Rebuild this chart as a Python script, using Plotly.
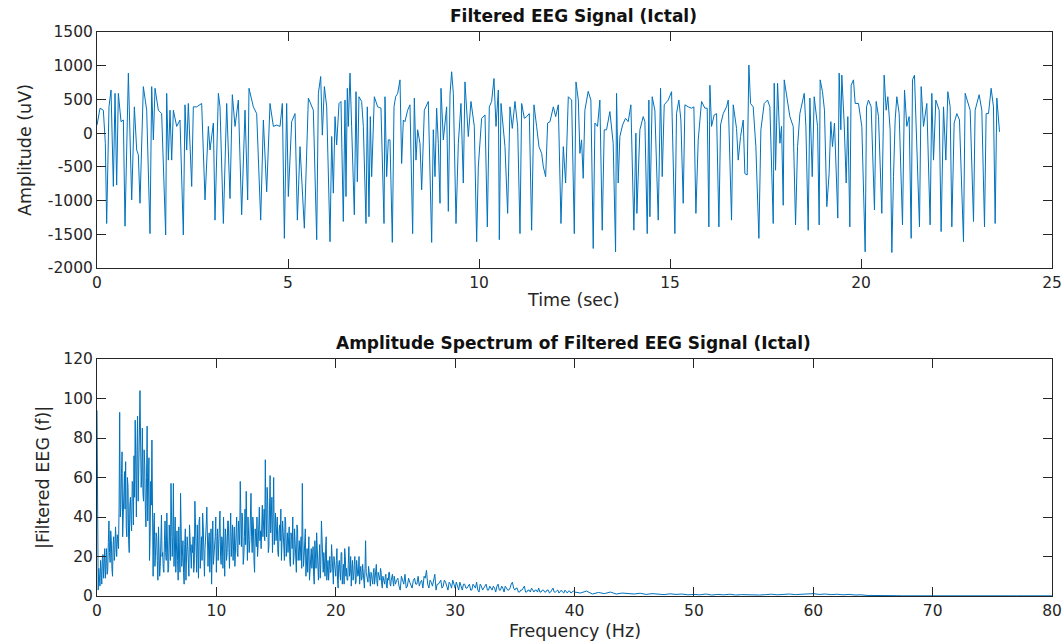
import numpy as np
import plotly.graph_objects as go

# ---- Ictal EEG trace (seconds, microvolts) ----
t_sec = [
    0.000, 0.079, 0.166, 0.218, 0.253, 0.314, 0.367, 0.428, 0.472, 0.515, 0.559, 0.629, 0.690, 0.733,
    0.821, 0.908, 0.978, 1.039, 1.082, 1.126, 1.213, 1.301, 1.388, 1.432, 1.475, 1.519, 1.606, 1.693,
    1.798, 1.824, 1.868, 1.911, 1.955, 1.999, 2.086, 2.173, 2.260, 2.304, 2.348, 2.391, 2.479, 2.522,
    2.609, 2.740, 2.828, 2.915, 2.958, 3.046, 3.089, 3.177, 3.220, 3.308, 3.395, 3.482, 3.543, 3.613,
    3.700, 3.787, 3.875, 3.944, 3.979, 4.093, 4.180, 4.285, 4.355, 4.442, 4.529, 4.617, 4.704, 4.791,
    4.852, 4.905, 4.965, 5.009, 5.096, 5.184, 5.245, 5.315, 5.428, 5.533, 5.663, 5.751, 5.795, 5.856,
    5.899, 5.952, 6.013, 6.100, 6.144, 6.187, 6.231, 6.274,
    6.335, 6.387, 6.448, 6.492, 6.518, 6.553, 6.579, 6.623, 6.666, 6.736, 6.780, 6.815, 6.858, 6.928,
    6.972, 7.042, 7.076, 7.120, 7.155, 7.190, 7.260, 7.347, 7.434, 7.513, 7.539, 7.583, 7.626, 7.670,
    7.731, 7.775, 7.818, 7.871, 7.932, 7.975, 8.019, 8.062, 8.132, 8.193, 8.263, 8.307, 8.350, 8.394,
    8.455, 8.499, 8.569, 8.673, 8.761, 8.804, 8.848, 8.891, 8.935, 8.979, 9.005, 9.066, 9.153, 9.197,
    9.241, 9.284, 9.328, 9.398, 9.459, 9.528, 9.589, 9.633, 9.720, 9.790, 9.877, 9.939, 9.982, 10.069,
    10.157, 10.218, 10.270, 10.331, 10.392, 10.445, 10.506, 10.532, 10.576, 10.637, 10.680, 10.750,
    10.811, 10.872, 10.942, 11.012, 11.073, 11.117, 11.187, 11.248, 11.317, 11.378, 11.439, 11.509,
    11.570, 11.640, 11.684, 11.745, 11.797, 11.858, 11.946, 12.007, 12.076, 12.146, 12.207, 12.268,
    12.338, 12.425, 12.495, 12.539, 12.600,
    12.641, 12.685, 12.728, 12.772, 12.859, 12.929, 12.990, 13.034, 13.103, 13.164, 13.226, 13.278,
    13.339, 13.426, 13.513, 13.575, 13.601, 13.644, 13.688, 13.758, 13.836, 13.906, 13.976, 14.054,
    14.107, 14.133, 14.212, 14.299, 14.343, 14.404, 14.447, 14.473, 14.534, 14.604, 14.692, 14.753,
    14.796, 14.849, 14.953, 15.041, 15.128, 15.171, 15.232, 15.285, 15.346, 15.390, 15.477, 15.564,
    15.625, 15.678, 15.739, 15.826, 15.913, 15.974, 16.018, 16.044, 16.088, 16.157, 16.219, 16.280,
    16.323, 16.393, 16.480, 16.524, 16.611, 16.655, 16.742, 16.786, 16.847, 16.917, 16.960, 17.021,
    17.065, 17.109, 17.178, 17.248, 17.327, 17.379, 17.466, 17.554, 17.615, 17.702, 17.728, 17.763,
    17.816, 17.877, 17.920, 17.964, 17.990, 18.051, 18.138, 18.226, 18.287, 18.339, 18.400, 18.514,
    18.557, 18.618, 18.662, 18.723, 18.775, 18.863,
    18.905, 18.931, 18.992, 19.044, 19.105, 19.166, 19.210, 19.254, 19.306, 19.393, 19.428, 19.472,
    19.498, 19.559, 19.612, 19.655, 19.708, 19.742, 19.803, 19.847, 19.934, 20.022, 20.109, 20.144,
    20.196, 20.266, 20.353, 20.397, 20.458, 20.545, 20.606, 20.659, 20.702, 20.763, 20.807, 20.851,
    20.894, 20.938, 20.999, 21.086, 21.139, 21.200, 21.261, 21.313, 21.348, 21.400, 21.461, 21.531,
    21.575, 21.636, 21.723, 21.810, 21.854, 21.898, 21.959, 22.046, 22.098, 22.160, 22.221, 22.273,
    22.334, 22.378, 22.439, 22.509, 22.578, 22.683, 22.727, 22.797, 22.858, 22.945, 22.988, 23.093,
    23.163, 23.233, 23.276, 23.338, 23.407, 23.468, 23.512, 23.556, 23.599, 23.626,
]
amp_uv = [
    120, 370, 340, -150, -1340, 390, 640, -790, 590, -770, 590, 170, 195, -1380,
    890, -990, 390, -250, -320, -1040, 690, 340, -1490, 690, -100, 665, 340, 290,
    -1510, 590, -400, 340, -400, 340, 100, 195, -1510, 420, -250, 440, -790, 390,
    390, 440, -990, 100, -250, 150, -1290, 590, 390, -1340, 440, -970, 570, 100,
    490, -1210, 340, -990, 665, 390, 290, -1290, 195, -870, 440, 100, 120, 100,
    440, -1560, 440, -940, 170, 290, -1290, -200, -1410, 520, 340, -1580, 590, 840,
    -30, 690, 390, -1610, -50, -890, 245, -175,
    440, 470, -1310, 490, -940, 665, 100, 890, 100, -1210, 615, -720, 540, 470,
    100, -1340, 390, -1240, 245, -645, 540, 390, 370, -1340, 540, -645, -100, -100,
    -1620, 390, 540, 590, 790, -450, 195, 170, 340, 420, -1490, 520, -400, 50,
    -150, -840, 340, 470, -1620, 50, -645, 370, -150, -1040, 665, -100, 390, -1160,
    570, 910, 590, -1340, -150, 440, -740, 760, -50, 470, 100, -1610, -500, 220,
    270, -1390, 390, 470, 810, 100, 640, -1580, 440, 100, -200, -1190,
    390, 70, 470, 100, -1490, 440, 220, 245, 290, -1440, 420, 100,
    -200, -300, -500, -645, 150, 170, 390, 245, 420, -1340, -200, -740,
    540, 490, -1490, 760, 490,
    -300, -100, -670, 340, 620, 490, -1710, 150, 100, 490, -1440, 50,
    50, 320, -150, -1760, 590, -740, -50, 120, 220, 170, 420, -1440,
    0, -1190, 50, 245, 170, -1490, 490, -1240, 540, 340, -1290, 665,
    -645, 420, 490, 615, -1490, 290, 490, 195, -1040, 420, 390, 370,
    390, -1190, -100, 470, 370, 370, -1390, 710, 100, 270, 290, -1390,
    120, 290, 390, 490, -1290, 420, 70, -400, -50, 195, -600, -620,
    1010, 440, 390, -200, -1560, 50, 440, 490, 390, -1340, 740, -550,
    740, -150, 100, -1070, 790, 540, 245, 100, -1360, -200, 290, 590,
    100, -1440, 520, -645, 540, 100,
    -1360, 790, 615, 340, -1090, -596, 170, -200, 150, -1260, 890, 50,
    860, 150, -740, 245, -1390, 710, 790, 440, 440, 100, -1760, 390,
    490, 390, -1140, 470, 245, -1190, 860, 340, 540, 50, -1770, -645,
    195, 540, 290, -1360, 640, 100, 245, -1560, 790, 860, -300, -1390,
    690, 100, 440, -1360, 590, -400, 490, 340, -1460, 390, -400, 615,
    390, -1390, 150, 290, 195, -1610, 590, 440, 340, -1310, 340, 570,
    340, -1390, 290, 290, 665, 390, -1340, 520, 100, 20,
]

# ---- Amplitude spectrum |X(f)| ----
# 0 - 24.9 Hz at whole 0.1 Hz bins
spec_0_25 = [
    94, 3, 10, 18, 6, 21, 14, 9, 24, 13,
    38, 17, 28, 10, 30, 22, 26, 31, 24, 93,
    45, 73, 38, 63, 68, 30, 55, 22, 50, 33,
    57, 71, 89, 40, 91, 60, 104, 55, 85, 48,
    66, 35, 86, 52, 18, 58, 79, 10, 42, 20,
    30, 8, 25, 15, 41, 22, 12, 38, 18, 28,
    14, 30, 57, 20, 57, 26, 12, 33, 8, 24,
    52, 15, 28, 6, 34, 18, 25, 10, 30, 14,
    22, 12, 48, 20, 36, 9, 40, 25, 18, 35,
    10, 28, 45, 15, 32, 22, 6, 38, 20, 30,
    12, 34, 25, 43, 16, 28, 40, 10, 30, 22,
    38, 14, 42, 26, 18, 35, 24, 40, 20, 30,
    58, 25, 38, 20, 44, 53, 18, 34, 28, 52,
    22, 36, 12, 30, 40, 26, 45, 33, 38, 30,
    44, 69, 30, 48, 25, 61, 38, 22, 60, 34,
    28, 40, 20, 36, 44, 25, 32, 18, 38, 27,
    22, 35, 15, 30, 40, 20, 28, 12, 34, 24,
    18, 30, 57, 15, 26, 10, 24, 20, 8, 22,
    14, 25, 6, 20, 32, 12, 18, 9, 38, 16,
    22, 10, 30, 14, 8, 20, 12, 18, 6, 15,
    10, 24, 4, 18, 8, 22, 12, 6, 20, 14,
    8, 25, 12, 5, 18, 10, 20, 7, 14, 11,
    6, 15, 9, 12, 4, 28, 10, 7, 13, 5,
    11, 6, 14, 9, 16, 5, 10, 8, 12, 4,
    9, 6, 11, 4, 8, 12, 5, 9, 7, 10,
]
# 0.05 - 24.95 Hz, the half bins between the ones above
spec_0_25_half = [
    8, 14, 5, 12, 19, 9, 24, 16, 11, 27,
    22, 33, 14, 26, 18, 35, 20, 28, 45, 40,
    62, 30, 52, 44, 35, 60, 28, 46, 38, 58,
    36, 50, 66, 75, 48, 82, 70, 62, 52, 74,
    44, 60, 38, 70, 30, 46, 25, 35, 15, 32,
    18, 35, 10, 32, 20, 14, 28, 22, 42, 12,
    36, 18, 42, 30, 15, 40, 22, 18, 35, 12,
    30, 20, 12, 26, 8, 30, 16, 36, 20, 26,
    30, 16, 28, 12, 25, 38, 14, 30, 42, 20,
    24, 36, 18, 28, 12, 34, 26, 16, 28, 40,
    26, 18, 36, 20, 30, 14, 24, 34, 18, 38,
    24, 32, 20, 36, 28, 15, 33, 22, 38, 26,
    34, 42, 16, 30, 26, 35, 40, 22, 44, 30,
    40, 18, 34, 25, 20, 38, 28, 24, 46, 36,
    28, 40, 55, 22, 44, 32, 50, 40, 26, 42,
    36, 22, 33, 28, 18, 38, 24, 40, 20, 32,
    30, 18, 32, 24, 16, 34, 22, 36, 18, 28,
    26, 14, 28, 20, 34, 18, 12, 30, 16, 24,
    20, 10, 28, 14, 22, 8, 26, 16, 24, 12,
    16, 24, 8, 18, 20, 12, 26, 10, 20, 14,
    18, 8, 16, 12, 22, 6, 16, 24, 10, 8,
    16, 10, 20, 14, 8, 16, 6, 18, 10, 20,
    12, 8, 16, 6, 14, 12, 8, 15, 9, 12,
    8, 12, 6, 10, 7, 12, 9, 14, 6, 10,
    7, 10, 5, 9, 12, 6, 8, 11, 5, 8,
]
# 25 - 39.8 Hz at 0.2 Hz bins
spec_25_40 = [
    6, 9, 3, 8, 11, 5, 7, 4, 9, 6,
    5, 8, 10, 13, 4, 7, 9, 3, 6, 8,
    5, 7, 3, 6, 8, 4, 5, 7, 3, 6,
    4, 6, 3, 5, 7, 2, 5, 4, 6, 3,
    4, 5, 2, 6, 3, 4, 5, 3, 4, 7,
    3, 4, 2, 3, 5, 2, 3, 4, 2, 3,
    4, 2, 3, 2, 3, 2, 4, 2, 3, 2,
    2, 3, 1.5, 2.5, 2,
]
# 25.1 - 39.9 Hz, the odd 0.1 Hz bins
spec_25_40_half = [
    8, 5, 10, 6, 4, 9, 5, 8, 6, 10,
    7, 4, 9, 6, 8, 5, 11, 6, 7, 4,
    8, 5, 7, 4, 6, 7, 3, 5, 6, 4,
    5, 3, 6, 4, 3, 6, 3, 5, 3, 5,
    3, 4, 5, 3, 5, 2, 4, 3, 6, 4,
    4, 2, 3, 4, 2, 3, 2, 3, 3, 2,
    2, 3, 2, 3, 1.5, 3, 2, 2.5, 1.5, 3,
    1.5, 2, 2.5, 1.5, 2.5,
]
# 40 - 80 Hz at 0.5 Hz bins
spec_40_80 = [
    2, 1.5, 2.5, 1, 1.8, 1.2, 2, 1, 1.5, 1.2,
    1, 1.4, 0.8, 1.2, 1, 0.7, 1.1, 0.8, 1, 0.6,
    0.8, 0.6, 1, 0.5, 0.8, 0.6, 0.9, 0.5, 0.7, 0.6,
    0.8, 0.5, 0.7, 0.9, 0.6, 0.8, 1, 0.7, 0.9, 0.8,
    1.2, 0.8, 1, 0.7, 0.9, 0.6, 0.8, 0.5, 0.6, 0.3,
    0.2, 0.15, 0.2, 0.1, 0.15, 0.1, 0.12, 0.1, 0.1, 0.1,
    0.1, 0.1, 0.1, 0.1, 0.1, 0.1, 0.1, 0.1, 0.1, 0.1,
    0.1, 0.1, 0.1, 0.1, 0.1, 0.1, 0.1, 0.1, 0.1, 0.1,
    0.1,
]


def interleave(a, b):
    out = []
    for u, v in zip(a, b):
        out += [u, v]
    return out


band_lo = interleave(spec_0_25, spec_0_25_half)
band_mid = interleave(spec_25_40, spec_25_40_half)
freq_hz = np.concatenate([
    0.05 * np.arange(len(band_lo)),
    25 + 0.1 * np.arange(len(band_mid)),
    40 + 0.5 * np.arange(len(spec_40_80)),
])
spec_mag = band_lo + band_mid + spec_40_80

time_ticks = [0, 5, 10, 15, 20, 25]
amp_ticks = [1500, 1000, 500, 0, -500, -1000, -1500, -2000]
freq_ticks = [0, 10, 20, 30, 40, 50, 60, 70, 80]
mag_ticks = [0, 20, 40, 60, 80, 100, 120]

LINE = "#0072BD"
INK = "#262626"
FONT = "DejaVu Sans, Liberation Sans, Arial, sans-serif"

fig = go.Figure()
fig.add_trace(go.Scatter(x=t_sec, y=amp_uv, mode="lines",
                         line=dict(color=LINE, width=1), xaxis="x", yaxis="y",
                         showlegend=False))
fig.add_trace(go.Scatter(x=freq_hz, y=spec_mag, mode="lines",
                         line=dict(color=LINE, width=1), xaxis="x2", yaxis="y2",
                         showlegend=False))

W, H = 1063, 642
x_dom = [97 / W, 1052 / W]


def axis_style(**kw):
    base = dict(showline=True, linecolor=INK, linewidth=1, mirror="ticks",
                ticks="inside", ticklen=9, tickcolor=INK, tickwidth=1,
                showgrid=False, zeroline=False, automargin=False,
                tickfont=dict(family=FONT, size=15.5, color=INK))
    base.update(kw)
    return base


def labels(vals):
    return [str(v) for v in vals]


fig.update_layout(
    width=W, height=H,
    margin=dict(l=0, r=0, t=0, b=0),
    paper_bgcolor="white", plot_bgcolor="white",
    font=dict(family=FONT, color=INK),
    xaxis=axis_style(domain=x_dom, range=[0, 25], anchor="y",
                     tickvals=time_ticks, ticktext=labels(time_ticks)),
    yaxis=axis_style(domain=[1 - 268 / H, 1 - 32 / H], range=[-2000, 1500], anchor="x",
                     tickvals=amp_ticks, ticktext=labels(amp_ticks)),
    xaxis2=axis_style(domain=x_dom, range=[0, 80], anchor="y2",
                      tickvals=freq_ticks, ticktext=labels(freq_ticks)),
    yaxis2=axis_style(domain=[1 - 596 / H, 1 - 359 / H], range=[0, 120], anchor="x2",
                      tickvals=mag_ticks, ticktext=labels(mag_ticks)),
)

title_font = dict(family=FONT, size=17, color="#111111")
label_font = dict(family=FONT, size=17.5, color=INK)
annots = [
    dict(text="<b>Filtered EEG Signal (Ictal)</b>", x=573 / W, y=1 - 16 / H, font=title_font),
    dict(text="Time (sec)", x=573 / W, y=1 - 300 / H, font=label_font),
    dict(text="Amplitude (uV)", x=25 / W, y=1 - 150 / H, font=label_font, textangle=-90),
    dict(text="<b>Amplitude Spectrum of Filtered EEG Signal (Ictal)</b>", x=573 / W,
         y=1 - 343 / H, font=title_font),
    dict(text="Frequency (Hz)", x=575 / W, y=1 - 631 / H, font=label_font),
    dict(text="|Filtered EEG (f)|", x=43 / W, y=1 - 478 / H, font=label_font, textangle=-90),
]
for a in annots:
    fig.add_annotation(xref="paper", yref="paper", showarrow=False,
                       xanchor="center", yanchor="middle", **a)

fig.write_html("out.html")
